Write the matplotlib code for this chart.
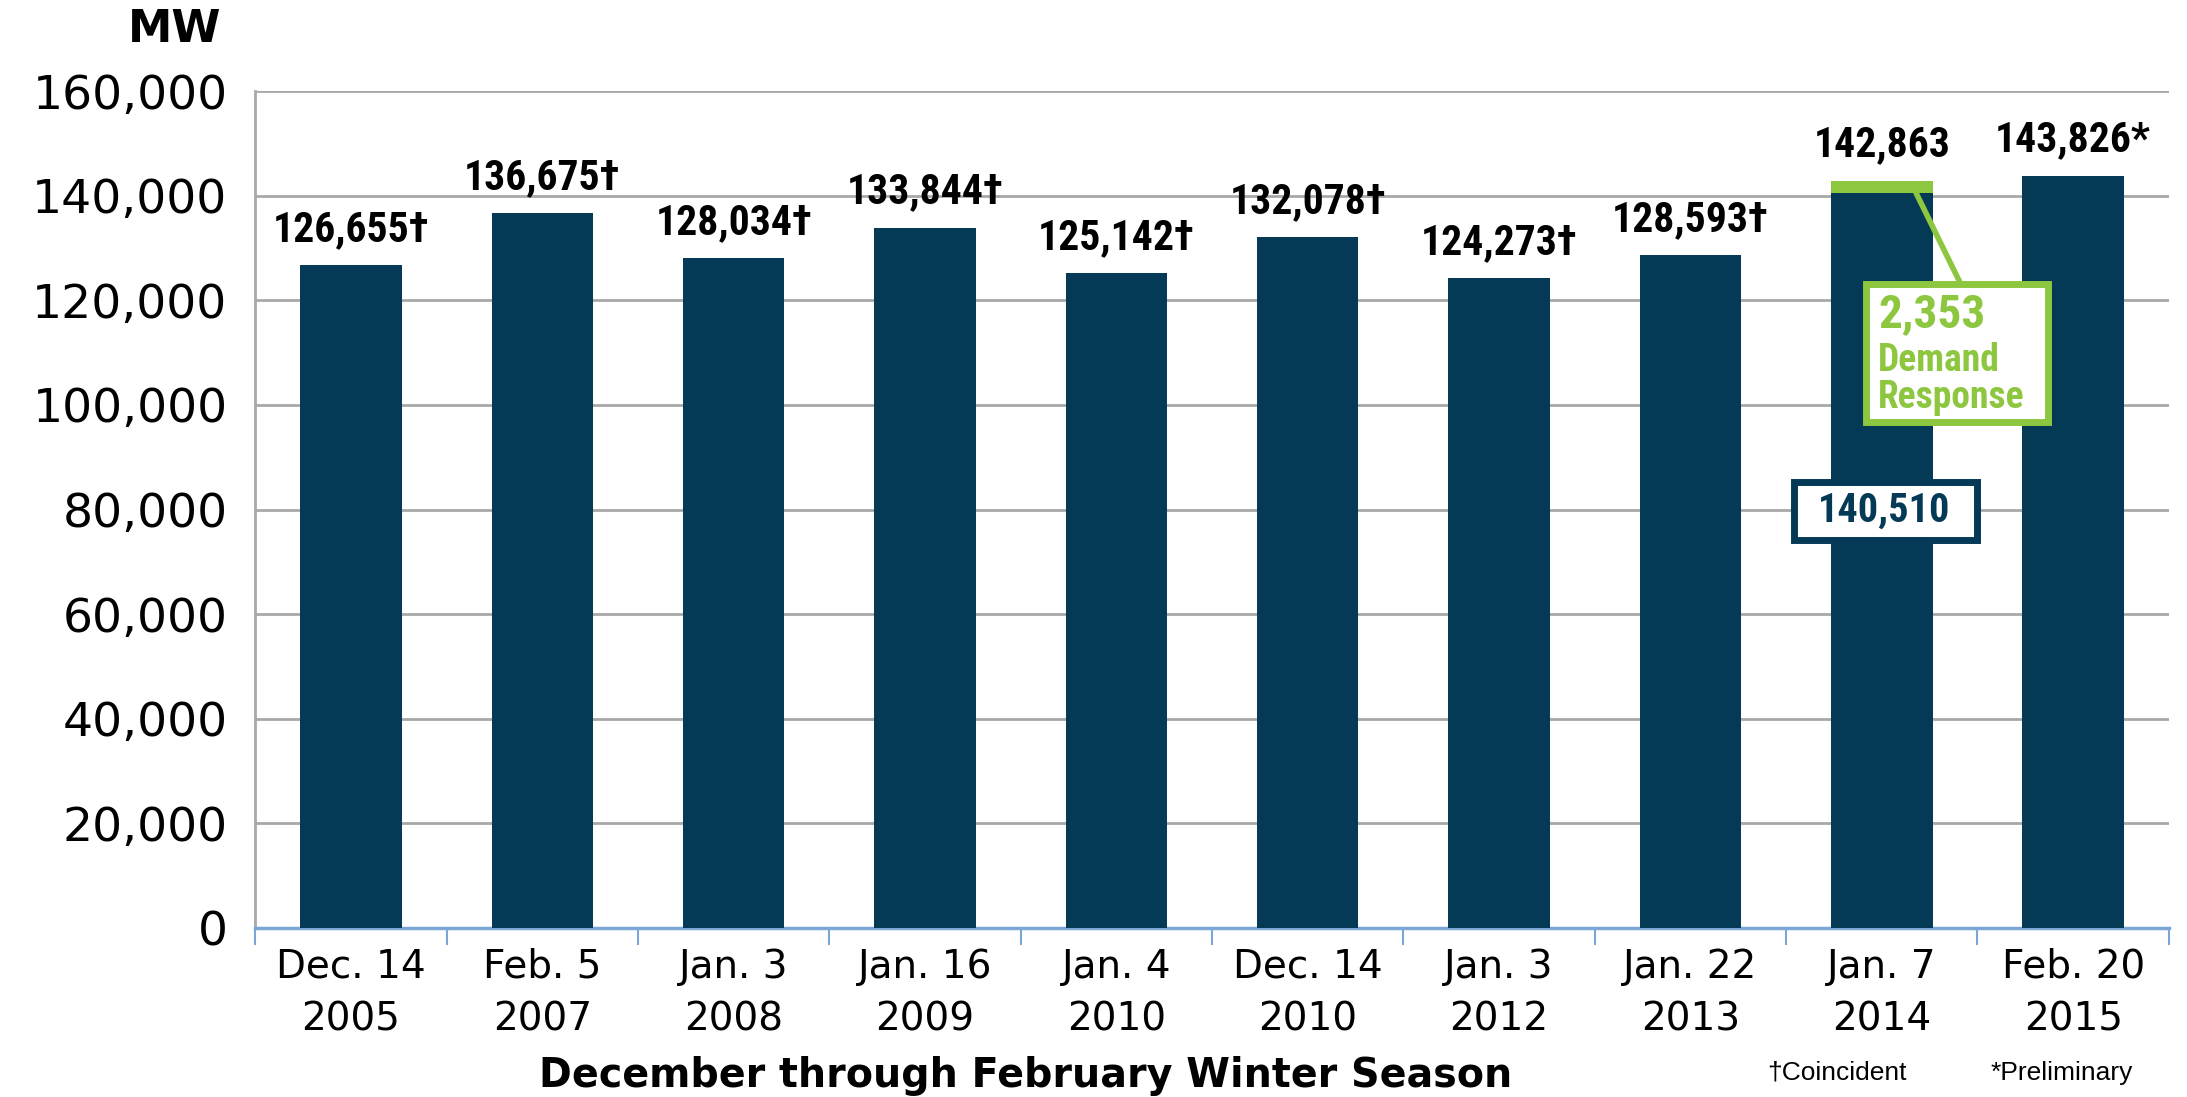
import matplotlib.pyplot as plt
from matplotlib import font_manager
from matplotlib.patches import Rectangle

dates = ['Dec. 14\n2005', 'Feb. 5\n2007', 'Jan. 3\n2008', 'Jan. 16\n2009', 'Jan. 4\n2010',
         'Dec. 14\n2010', 'Jan. 3\n2012', 'Jan. 22\n2013', 'Jan. 7\n2014', 'Feb. 20\n2015']
peak = [126655, 136675, 128034, 133844, 125142, 132078, 124273, 128593, 140510, 143826]
demand_resp = [0, 0, 0, 0, 0, 0, 0, 0, 2353, 0]
bar_labels = ['126,655†', '136,675†', '128,034†', '133,844†', '125,142†', '132,078†',
              '124,273†', '128,593†', '142,863', '143,826*']

navy = '#053a57'
green = '#8dc63f'
tick_font = 'DejaVu Sans'


def pick_font(names):
    for n in names:
        try:
            font_manager.findfont(n, fallback_to_default=False)
            return n
        except ValueError:
            pass
    return 'DejaVu Sans'


narrow = pick_font(['Liberation Sans Narrow', 'Roboto Condensed', 'DejaVu Sans Condensed',
                    'Open Sans Condensed', 'Roboto'])
is_narrow = narrow != 'Roboto' and narrow != 'DejaVu Sans'
lbl_size = 30 if is_narrow else 26

fig = plt.figure(figsize=(21.87, 10.97), dpi=100)
ax = fig.add_axes([0.1167, 0.154, 0.875, 0.763])

x = list(range(len(peak)))
ax.bar(x, peak, width=0.53, color=navy, zorder=3)
ax.bar(x, demand_resp, width=0.53, bottom=peak, color=green, zorder=3)

ax.set_xlim(-0.5, 9.5)
ax.set_ylim(0, 160000)
ax.set_yticks(range(0, 160001, 20000))
ax.set_yticklabels([f'{v:,}' for v in range(0, 160001, 20000)], fontsize=34, family=tick_font)
ax.yaxis.grid(True, color='#a8a8a8', linewidth=2)
ax.set_axisbelow(True)
ax.tick_params(axis='y', length=0, pad=20)

ax.set_xticks(x)
ax.set_xticklabels(dates, fontsize=28, family=tick_font, linespacing=1.5)
ax.set_xticks([i - 0.5 for i in range(11)], minor=True)
ax.tick_params(axis='x', which='major', length=0, pad=14)
ax.tick_params(axis='x', which='minor', length=12, width=1.5, color='#7aa6d8')

for s in ['top', 'right']:
    ax.spines[s].set_visible(False)
ax.spines['left'].set_color('#a8a8a8')
ax.spines['left'].set_linewidth(2)
ax.spines['bottom'].set_color('#7aa6d8')
ax.spines['bottom'].set_linewidth(2.5)

for i in x:
    top = peak[i] + demand_resp[i]
    ax.annotate(bar_labels[i], (i, top), xytext=(0, 11), textcoords='offset points',
                ha='center', va='bottom', fontsize=lbl_size, fontweight='bold', family=narrow)

# demand response callout
ax.plot([8.17, 8.41], [141200, 123300], color=green, linewidth=4, zorder=4)
ax.add_patch(Rectangle((7.92, 96800), 0.95, 26400, facecolor='white', edgecolor=green,
                       linewidth=5, zorder=5))
ax.text(7.98, 121500, '2,353', color=green, fontsize=lbl_size + 4, fontweight='bold',
        family=narrow, va='top', ha='left', zorder=6)
ax.text(7.98, 112000, 'Demand\nResponse', color=green, fontsize=lbl_size - 3, fontweight='bold',
        family=narrow, va='top', ha='left', linespacing=1.0, zorder=6)

# 140,510 box
ax.add_patch(Rectangle((7.54, 74100), 0.955, 11200, facecolor='white', edgecolor=navy,
                       linewidth=5, zorder=5))
ax.text(8.01, 79700, '140,510', color=navy, fontsize=lbl_size - 1, fontweight='bold',
        family=narrow, va='center', ha='center', zorder=6)

fig.text(0.101, 0.993, 'MW', fontsize=32, fontweight='bold', family=tick_font,
         ha='right', va='top')
fig.text(0.469, 0.019, 'December through February Winter Season', fontsize=28.5,
         fontweight='bold', family=tick_font, ha='center', va='center')
fig.text(0.808, 0.022, '†Coincident', fontsize=19, family='Liberation Sans', ha='left', va='center')
fig.text(0.910, 0.022, '*Preliminary', fontsize=19, family='Liberation Sans', ha='left', va='center')

fig.savefig('out.png', dpi=100, facecolor='white')
